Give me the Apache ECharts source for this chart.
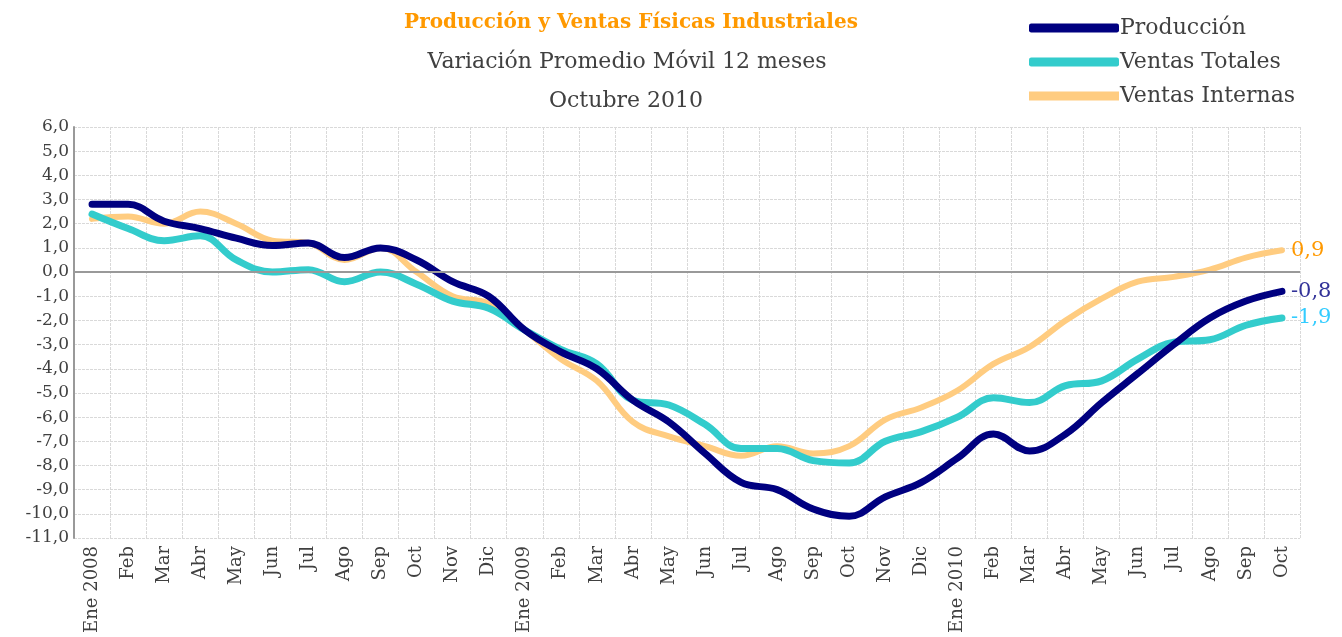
<!DOCTYPE html>
<html>
<head>
<meta charset="utf-8">
<script src="https://cdn.jsdelivr.net/npm/echarts@6/dist/echarts.min.js"></script>
<style>
    html, body { margin: 0; padding: 0; background: #fff; }
    #chart { width: 1342px; height: 637px; }
</style>
</head>
<body>
<div id="chart"></div>
<script>
    // meses (Ene 2008 - Oct 2010)
    const months = ['Ene 2008', 'Feb', 'Mar', 'Abr', 'May', 'Jun', 'Jul', 'Ago', 'Sep', 'Oct', 'Nov', 'Dic',
        'Ene 2009', 'Feb', 'Mar', 'Abr', 'May', 'Jun', 'Jul', 'Ago', 'Sep', 'Oct', 'Nov', 'Dic',
        'Ene 2010', 'Feb', 'Mar', 'Abr', 'May', 'Jun', 'Jul', 'Ago', 'Sep', 'Oct']
    // variación promedio móvil 12 meses
    const produccion = [2.8, 2.8, 2.1, 1.8, 1.4, 1.1, 1.2, 0.6, 1.0, 0.5, -0.4, -1.0,
        -2.4, -3.3, -4.0, -5.3, -6.2, -7.5, -8.7, -9.0, -9.8, -10.1, -9.3, -8.7,
        -7.7, -6.7, -7.4, -6.7, -5.4, -4.2, -3.0, -1.9, -1.2, -0.8]
    const ventasTotales = [2.4, 1.8, 1.3, 1.5, 0.5, 0.0, 0.1, -0.4, 0.0, -0.5, -1.2, -1.5,
        -2.4, -3.2, -3.8, -5.3, -5.5, -6.3, -7.3, -7.3, -7.8, -7.9, -7.0, -6.6,
        -6.0, -5.2, -5.4, -4.7, -4.5, -3.6, -2.9, -2.8, -2.2, -1.9]
    const ventasInternas = [2.2, 2.3, 2.0, 2.5, 2.0, 1.3, 1.2, 0.5, 1.0, 0.0, -1.0, -1.3,
        -2.4, -3.6, -4.5, -6.2, -6.8, -7.2, -7.6, -7.2, -7.5, -7.2, -6.1, -5.6,
        -4.9, -3.8, -3.1, -2.0, -1.1, -0.4, -0.2, 0.1, 0.6, 0.9]

    const font = 'DejaVu Serif'
    const fmt = v => v.toFixed(1).replace('.', ',')

    const chart = echarts.init(document.getElementById('chart'))

    function lineSerie (name, data, color, width, labelColor, extra) {
        return Object.assign({
            name: name,
            type: 'line',
            data: data,
            smooth: 0.4,
            symbol: 'none',
            lineStyle: { color: color, width: width, cap: 'round' },
            itemStyle: { color: color },
            endLabel: {
                show: true,
                distance: 9,
                formatter: p => fmt(p.value),
                color: labelColor,
                fontFamily: font,
                fontSize: 21
            }
        }, extra || {})
    }

    chart.setOption({
        animation: false,
        textStyle: { fontFamily: font },
        title: [
            {
                text: 'Producción y Ventas Físicas Industriales',
                left: 626, top: 8, textAlign: 'center',
                textStyle: { color: '#FF9900', fontSize: 20, fontWeight: 'bold', fontFamily: font }
            },
            {
                text: 'Variación Promedio Móvil 12 meses',
                left: 622, top: 46, textAlign: 'center',
                textStyle: { color: '#404040', fontSize: 22, fontWeight: 'normal', fontFamily: font }
            },
            {
                text: 'Octubre 2010',
                left: 621, top: 85, textAlign: 'center',
                textStyle: { color: '#404040', fontSize: 22, fontWeight: 'normal', fontFamily: font }
            }
        ],
        legend: {
            orient: 'vertical',
            left: 1024,
            top: 12,
            itemWidth: 90,
            itemHeight: 9,
            itemGap: 12,
            textStyle: { color: '#404040', fontSize: 22, fontFamily: font, padding: [0, 0, 0, -4] },
            data: [
                { name: 'Producción', icon: 'roundRect' },
                { name: 'Ventas Totales', icon: 'roundRect' },
                { name: 'Ventas Internas', icon: 'rect' }
            ]
        },
        grid: { left: 74, right: 42, top: 127, bottom: 99, containLabel: false },
        xAxis: {
            type: 'category',
            data: months,
            boundaryGap: true,
            axisLine: { show: false, onZero: false },
            axisTick: { show: false },
            axisLabel: { rotate: 90, interval: 0, color: '#404040', fontSize: 18, fontFamily: font, margin: 8 },
            splitLine: { show: true, interval: 0, lineStyle: { color: '#d9d9d9', type: [3, 1] } }
        },
        yAxis: {
            type: 'value',
            min: -11,
            max: 6,
            interval: 1,
            axisLine: { show: true, lineStyle: { color: '#999', width: 2 } },
            axisTick: { show: false },
            axisLabel: { color: '#404040', fontSize: 17, fontFamily: font, margin: 5, formatter: fmt },
            splitLine: { show: true, lineStyle: { color: '#d9d9d9', type: [3, 1] } }
        },
        series: [
            lineSerie('Ventas Internas', ventasInternas, '#FFCC80', 6, '#FF9900'),
            lineSerie('Ventas Totales', ventasTotales, '#33CCCC', 7, '#33CCFF'),
            lineSerie('Producción', produccion, '#000080', 7, '#333399', {
                markLine: {
                    silent: true,
                    symbol: 'none',
                    label: { show: false },
                    lineStyle: { color: '#999', width: 2, type: 'solid' },
                    data: [{ yAxis: 0 }]
                }
            })
        ]
    })
</script>
</body>
</html>
